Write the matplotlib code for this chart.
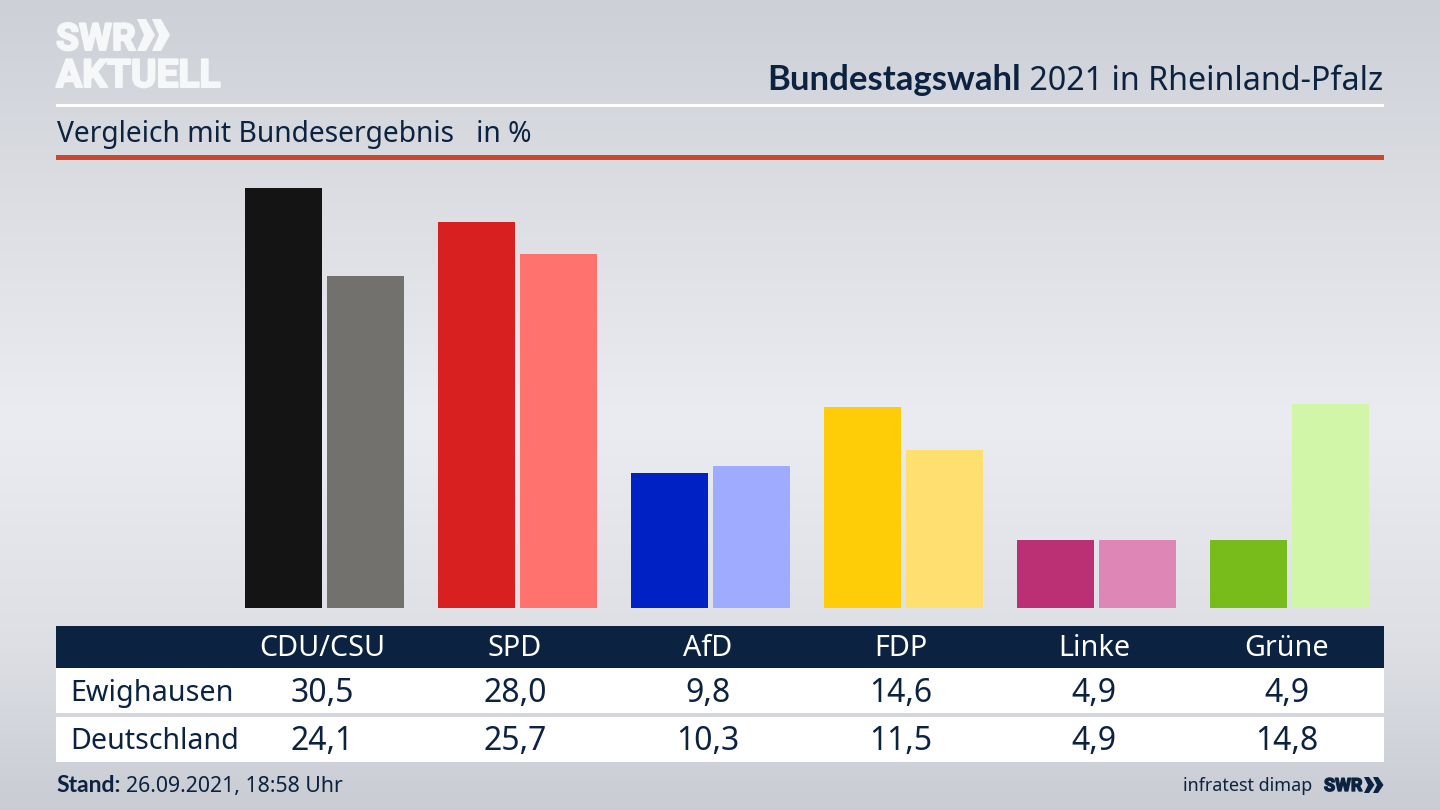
import matplotlib
matplotlib.use('Agg')
import matplotlib.pyplot as plt
import matplotlib.patheffects as pe
import numpy as np
from matplotlib.patches import Polygon, Rectangle
from matplotlib.colors import LinearSegmentedColormap

plt.rcParams['font.family'] = ['Noto Sans', 'DejaVu Sans']

parties = ['CDU/CSU', 'SPD', 'AfD', 'FDP', 'Linke', 'Grüne']
ewighausen = [30.5, 28.0, 9.8, 14.6, 4.9, 4.9]
deutschland = [24.1, 25.7, 10.3, 11.5, 4.9, 14.8]
colors_local = ['#141414', '#d7201f', '#0021c4', '#ffcc08', '#bb2f75', '#78bc1c']
colors_federal = ['#72716e', '#ff726e', '#9eabff', '#ffdf70', '#de86b6', '#d2f6a8']

NAVY = '#0b2240'
LOGO = '#f6f7f8'
BOLD = ['Lato', 'DejaVu Sans']
W, H = 1440, 810

fig = plt.figure(figsize=(W / 100, H / 100), dpi=100)

# background gradient, behind everything
bg = fig.add_axes([0, 0, 1, 1], zorder=0)
cmap = LinearSegmentedColormap.from_list(
    'bg', [(0, '#cdd0d7'), (0.25, '#dcdee3'), (0.52, '#ebecf1'), (0.8, '#dddfe4'), (1, '#c9ccd3')])
bg.imshow(np.linspace(0, 1, 256).reshape(-1, 1), cmap=cmap, aspect='auto', extent=(0, W, H, 0))
bg.set_xlim(0, W)
bg.set_ylim(H, 0)
bg.axis('off')

# bars: baseline at y=608, 13.8 px per percent
ax = fig.add_axes([228 / W, (H - 608) / H, 1158 / W, 448 / H], zorder=1)
ax.patch.set_alpha(0)
x = np.arange(len(parties))
bar_w = 0.398
ax.bar(x - 0.2124, ewighausen, bar_w, color=colors_local)
ax.bar(x + 0.2124, deutschland, bar_w, color=colors_federal)
ax.set_xlim(-0.5, 5.5)
ax.set_ylim(0, 448 / 13.78)
ax.axis('off')

# everything else in pixel coordinates
ov = fig.add_axes([0, 0, 1, 1], zorder=2)
ov.patch.set_alpha(0)
ov.set_xlim(0, W)
ov.set_ylim(H, 0)
ov.axis('off')


def chevrons(x0s, top, bottom, wide, notch, tip, color):
    mid = (top + bottom) / 2
    for x0 in x0s:
        ov.add_patch(Polygon([(x0, top), (x0 + wide, top), (x0 + tip, mid), (x0 + wide, bottom),
                              (x0, bottom), (x0 + notch, mid)], color=color, lw=0))


# logo, roboto bold is too light so thicken it with a stroke
ov.text(56, 50, 'SWR', fontsize=27, fontweight='bold', family='Roboto', color=LOGO, va='baseline', ha='left',
        path_effects=[pe.withStroke(linewidth=1.5, foreground=LOGO)])
chevrons((137, 152), 19, 51, 9, 7, 18, LOGO)
ov.text(56, 87, 'AKTUELL', fontsize=28, fontweight='bold', family='Roboto', color=LOGO, va='baseline', ha='left',
        path_effects=[pe.withStroke(linewidth=1.5, foreground=LOGO)])

# title
t = ov.text(1383, 90, ' 2021 in Rheinland-Pfalz', fontsize=23.2, color=NAVY, va='baseline', ha='right')
fig.canvas.draw()
bb = t.get_window_extent()
ov.text(bb.x0, 90, 'Bundestagswahl', fontsize=25, fontweight='bold', family=BOLD, color=NAVY,
        va='baseline', ha='right')

ov.add_patch(Rectangle((56, 104), 1328, 3, color='white', lw=0))
ov.text(57, 142, 'Vergleich mit Bundesergebnis   in %', fontsize=20.3, color=NAVY, va='baseline', ha='left')
ov.add_patch(Rectangle((56, 155), 1328, 5, color='#c9472f', lw=0))

# table
ov.add_patch(Rectangle((56, 626), 1328, 42, color=NAVY, lw=0))
ov.add_patch(Rectangle((56, 668), 1328, 45, color='white', lw=0))
ov.add_patch(Rectangle((56, 717), 1328, 45, color='white', lw=0))
fmt = lambda v: f'{v:.1f}'.replace('.', ',')
ov.text(70, 701, 'Ewighausen', fontsize=20.7, color=NAVY, va='baseline', ha='left')
ov.text(70, 749, 'Deutschland', fontsize=20.6, color=NAVY, va='baseline', ha='left')
for i, name in enumerate(parties):
    cx = 322 + 193 * i
    ov.text(cx, 656, name, fontsize=20.7, color='white', va='baseline', ha='center')
    ov.text(cx, 702, fmt(ewighausen[i]), fontsize=23, color=NAVY, va='baseline', ha='center')
    ov.text(cx, 750, fmt(deutschland[i]), fontsize=23, color=NAVY, va='baseline', ha='center')

# footer
ov.text(56, 792, 'Stand:', fontsize=16.5, fontweight='bold', family=BOLD, color=NAVY, va='baseline', ha='left')
ov.text(126, 792, '26.09.2021, 18:58 Uhr', fontsize=15.3, color=NAVY, va='baseline', ha='left')
ov.text(1312, 791, 'infratest dimap', fontsize=12.9, color=NAVY, va='baseline', ha='right')
ov.text(1324, 791, 'SWR', fontsize=13, fontweight='bold', family='Roboto', color=NAVY, va='baseline', ha='left',
        path_effects=[pe.withStroke(linewidth=1, foreground=NAVY)])
chevrons((1364, 1373), 777, 793, 5, 4, 10.5, NAVY)

fig.savefig('out.png', dpi=100)
